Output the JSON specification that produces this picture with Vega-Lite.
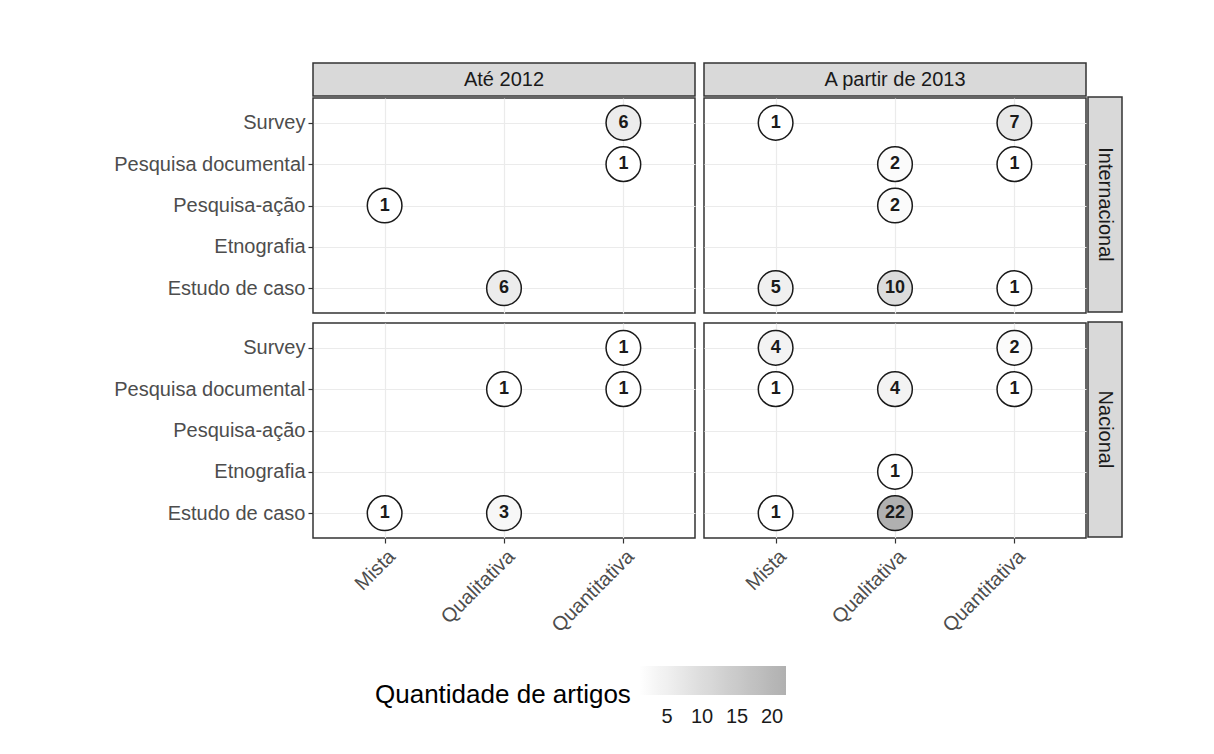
{
  "$schema": "https://vega.github.io/schema/vega-lite/v6.json",
  "padding": {"left": 113, "top": 62, "right": 20, "bottom": 20},
  "background": "white",
  "datasets": {
    "d": [
      {"periodo": "Até 2012", "origem": "Internacional", "tipo": "Survey", "metodo": "Quantitativa", "n": 6},
      {"periodo": "Até 2012", "origem": "Internacional", "tipo": "Pesquisa documental", "metodo": "Quantitativa", "n": 1},
      {"periodo": "Até 2012", "origem": "Internacional", "tipo": "Pesquisa-ação", "metodo": "Mista", "n": 1},
      {"periodo": "Até 2012", "origem": "Internacional", "tipo": "Estudo de caso", "metodo": "Qualitativa", "n": 6},
      {"periodo": "A partir de 2013", "origem": "Internacional", "tipo": "Survey", "metodo": "Mista", "n": 1},
      {"periodo": "A partir de 2013", "origem": "Internacional", "tipo": "Survey", "metodo": "Quantitativa", "n": 7},
      {"periodo": "A partir de 2013", "origem": "Internacional", "tipo": "Pesquisa documental", "metodo": "Qualitativa", "n": 2},
      {"periodo": "A partir de 2013", "origem": "Internacional", "tipo": "Pesquisa documental", "metodo": "Quantitativa", "n": 1},
      {"periodo": "A partir de 2013", "origem": "Internacional", "tipo": "Pesquisa-ação", "metodo": "Qualitativa", "n": 2},
      {"periodo": "A partir de 2013", "origem": "Internacional", "tipo": "Estudo de caso", "metodo": "Mista", "n": 5},
      {"periodo": "A partir de 2013", "origem": "Internacional", "tipo": "Estudo de caso", "metodo": "Qualitativa", "n": 10},
      {"periodo": "A partir de 2013", "origem": "Internacional", "tipo": "Estudo de caso", "metodo": "Quantitativa", "n": 1},
      {"periodo": "Até 2012", "origem": "Nacional", "tipo": "Survey", "metodo": "Quantitativa", "n": 1},
      {"periodo": "Até 2012", "origem": "Nacional", "tipo": "Pesquisa documental", "metodo": "Qualitativa", "n": 1},
      {"periodo": "Até 2012", "origem": "Nacional", "tipo": "Pesquisa documental", "metodo": "Quantitativa", "n": 1},
      {"periodo": "Até 2012", "origem": "Nacional", "tipo": "Estudo de caso", "metodo": "Mista", "n": 1},
      {"periodo": "Até 2012", "origem": "Nacional", "tipo": "Estudo de caso", "metodo": "Qualitativa", "n": 3},
      {"periodo": "A partir de 2013", "origem": "Nacional", "tipo": "Survey", "metodo": "Mista", "n": 4},
      {"periodo": "A partir de 2013", "origem": "Nacional", "tipo": "Survey", "metodo": "Quantitativa", "n": 2},
      {"periodo": "A partir de 2013", "origem": "Nacional", "tipo": "Pesquisa documental", "metodo": "Mista", "n": 1},
      {"periodo": "A partir de 2013", "origem": "Nacional", "tipo": "Pesquisa documental", "metodo": "Qualitativa", "n": 4},
      {"periodo": "A partir de 2013", "origem": "Nacional", "tipo": "Pesquisa documental", "metodo": "Quantitativa", "n": 1},
      {"periodo": "A partir de 2013", "origem": "Nacional", "tipo": "Etnografia", "metodo": "Qualitativa", "n": 1},
      {"periodo": "A partir de 2013", "origem": "Nacional", "tipo": "Estudo de caso", "metodo": "Mista", "n": 1},
      {"periodo": "A partir de 2013", "origem": "Nacional", "tipo": "Estudo de caso", "metodo": "Qualitativa", "n": 22}
    ]
  },
  "spacing": 0,
  "hconcat": [
    {
      "spacing": 0,
      "vconcat": [
        {
          "spacing": 7,
          "hconcat": [
            {"width": 382, "height": 33, "data": {"values": [{"s": "Até 2012"}]}, "mark": {"type": "text", "fontSize": 20, "color": "#1a1a1a"}, "encoding": {"text": {"field": "s"}}, "view": {"fill": "#d9d9d9", "stroke": "#333333", "strokeWidth": 1.5}},
            {"width": 382, "height": 33, "data": {"values": [{"s": "A partir de 2013"}]}, "mark": {"type": "text", "fontSize": 20, "color": "#1a1a1a"}, "encoding": {"text": {"field": "s"}}, "view": {"fill": "#d9d9d9", "stroke": "#333333", "strokeWidth": 1.5}}
          ]
        },
        {
          "spacing": 8,
          "vconcat": [
            {
              "spacing": 7,
              "hconcat": [
                {
                  "width": 382, "height": 215,
                  "data": {"name": "d"},
                  "transform": [{"filter": "datum.periodo === 'Até 2012' && datum.origem === 'Internacional'"}],
                  "encoding": {
                    "x": {"field": "metodo", "type": "nominal", "scale": {"type": "point", "domain": ["Mista", "Qualitativa", "Quantitativa"], "padding": 0.6}, "axis": {"labels": false, "ticks": false, "grid": true, "title": null}},
                    "y": {"field": "tipo", "type": "nominal", "scale": {"type": "point", "domain": ["Survey", "Pesquisa documental", "Pesquisa-ação", "Etnografia", "Estudo de caso"], "padding": 0.6}, "axis": {"grid": true, "title": null}}
                  },
                  "layer": [
                    {"mark": {"type": "circle", "size": 1200, "stroke": "#1a1a1a", "strokeWidth": 1.5, "opacity": 1}, "encoding": {"fill": {"field": "n", "type": "quantitative", "title": "Quantidade de artigos", "scale": {"domain": [1, 22], "range": ["#ffffff", "#b0b0b0"]}, "legend": {"values": [5, 10, 15, 20], "orient": "none", "legendX": 62, "legendY": 603, "titleAnchor": "end", "titleBaseline": "middle", "labelOffset": 12}}}},
                    {"mark": {"type": "text", "fontSize": 18, "fontWeight": "bold", "color": "#1a1a1a"}, "encoding": {"text": {"field": "n", "type": "quantitative"}}}
                  ]
                },
                {
                  "width": 382, "height": 215,
                  "data": {"name": "d"},
                  "transform": [{"filter": "datum.periodo === 'A partir de 2013' && datum.origem === 'Internacional'"}],
                  "encoding": {
                    "x": {"field": "metodo", "type": "nominal", "scale": {"type": "point", "domain": ["Mista", "Qualitativa", "Quantitativa"], "padding": 0.6}, "axis": {"labels": false, "ticks": false, "grid": true, "title": null}},
                    "y": {"field": "tipo", "type": "nominal", "scale": {"type": "point", "domain": ["Survey", "Pesquisa documental", "Pesquisa-ação", "Etnografia", "Estudo de caso"], "padding": 0.6}, "axis": {"labels": false, "ticks": false, "grid": true, "title": null}}
                  },
                  "layer": [
                    {"mark": {"type": "circle", "size": 1200, "stroke": "#1a1a1a", "strokeWidth": 1.5, "opacity": 1}, "encoding": {"fill": {"field": "n", "type": "quantitative", "title": "Quantidade de artigos", "scale": {"domain": [1, 22], "range": ["#ffffff", "#b0b0b0"]}, "legend": {"values": [5, 10, 15, 20], "orient": "none", "legendX": 62, "legendY": 603, "titleAnchor": "end", "titleBaseline": "middle", "labelOffset": 12}}}},
                    {"mark": {"type": "text", "fontSize": 18, "fontWeight": "bold", "color": "#1a1a1a"}, "encoding": {"text": {"field": "n", "type": "quantitative"}}}
                  ]
                }
              ]
            },
            {
              "spacing": 7,
              "hconcat": [
                {
                  "width": 382, "height": 215,
                  "data": {"name": "d"},
                  "transform": [{"filter": "datum.periodo === 'Até 2012' && datum.origem === 'Nacional'"}],
                  "encoding": {
                    "x": {"field": "metodo", "type": "nominal", "scale": {"type": "point", "domain": ["Mista", "Qualitativa", "Quantitativa"], "padding": 0.6}, "axis": {"labelAngle": -45, "grid": true, "title": null}},
                    "y": {"field": "tipo", "type": "nominal", "scale": {"type": "point", "domain": ["Survey", "Pesquisa documental", "Pesquisa-ação", "Etnografia", "Estudo de caso"], "padding": 0.6}, "axis": {"grid": true, "title": null}}
                  },
                  "layer": [
                    {"mark": {"type": "circle", "size": 1200, "stroke": "#1a1a1a", "strokeWidth": 1.5, "opacity": 1}, "encoding": {"fill": {"field": "n", "type": "quantitative", "title": "Quantidade de artigos", "scale": {"domain": [1, 22], "range": ["#ffffff", "#b0b0b0"]}, "legend": {"values": [5, 10, 15, 20], "orient": "none", "legendX": 62, "legendY": 603, "titleAnchor": "end", "titleBaseline": "middle", "labelOffset": 12}}}},
                    {"mark": {"type": "text", "fontSize": 18, "fontWeight": "bold", "color": "#1a1a1a"}, "encoding": {"text": {"field": "n", "type": "quantitative"}}}
                  ]
                },
                {
                  "width": 382, "height": 215,
                  "data": {"name": "d"},
                  "transform": [{"filter": "datum.periodo === 'A partir de 2013' && datum.origem === 'Nacional'"}],
                  "encoding": {
                    "x": {"field": "metodo", "type": "nominal", "scale": {"type": "point", "domain": ["Mista", "Qualitativa", "Quantitativa"], "padding": 0.6}, "axis": {"labelAngle": -45, "grid": true, "title": null}},
                    "y": {"field": "tipo", "type": "nominal", "scale": {"type": "point", "domain": ["Survey", "Pesquisa documental", "Pesquisa-ação", "Etnografia", "Estudo de caso"], "padding": 0.6}, "axis": {"labels": false, "ticks": false, "grid": true, "title": null}}
                  },
                  "layer": [
                    {"mark": {"type": "circle", "size": 1200, "stroke": "#1a1a1a", "strokeWidth": 1.5, "opacity": 1}, "encoding": {"fill": {"field": "n", "type": "quantitative", "title": "Quantidade de artigos", "scale": {"domain": [1, 22], "range": ["#ffffff", "#b0b0b0"]}, "legend": {"values": [5, 10, 15, 20], "orient": "none", "legendX": 62, "legendY": 603, "titleAnchor": "end", "titleBaseline": "middle", "labelOffset": 12}}}},
                    {"mark": {"type": "text", "fontSize": 18, "fontWeight": "bold", "color": "#1a1a1a"}, "encoding": {"text": {"field": "n", "type": "quantitative"}}}
                  ]
                }
              ]
            }
          ]
        }
      ]
    },
    {
      "spacing": 0,
      "vconcat": [
        {"width": 34, "height": 33, "data": {"values": [{"s": ""}]}, "mark": {"type": "text"}, "encoding": {"text": {"field": "s"}}, "view": {"stroke": null}},
        {
          "spacing": 8,
          "vconcat": [
            {"width": 34, "height": 215, "data": {"values": [{"s": "Internacional"}]}, "mark": {"type": "text", "fontSize": 20, "color": "#1a1a1a", "angle": 90}, "encoding": {"text": {"field": "s"}}, "view": {"fill": "#d9d9d9", "stroke": "#333333", "strokeWidth": 1.5}},
            {"width": 34, "height": 215, "data": {"values": [{"s": "Nacional"}]}, "mark": {"type": "text", "fontSize": 20, "color": "#1a1a1a", "angle": 90}, "encoding": {"text": {"field": "s"}}, "view": {"fill": "#d9d9d9", "stroke": "#333333", "strokeWidth": 1.5}}
          ]
        }
      ]
    }
  ],
  "config": {
    "font": "Liberation Sans",
    "view": {"stroke": "#333333", "strokeWidth": 1.5},
    "axis": {"labelFont": "Liberation Sans", "labelFontSize": 20, "labelColor": "#4d4d4d", "labelLimit": 400, "gridColor": "#ebebeb", "gridWidth": 1.2, "tickColor": "#333333", "tickSize": 5, "tickWidth": 1.2, "domain": false, "labelPadding": 3},
    "legend": {"direction": "horizontal", "titleOrient": "left", "gradientLength": 147, "gradientThickness": 29, "titleFont": "Liberation Sans", "titleFontSize": 26, "titleFontWeight": "normal", "titleColor": "black", "titleLimit": 500, "labelFont": "Liberation Sans", "labelFontSize": 20, "labelColor": "#1a1a1a", "gradientStrokeWidth": 0, "titlePadding": 8}
  }
}
